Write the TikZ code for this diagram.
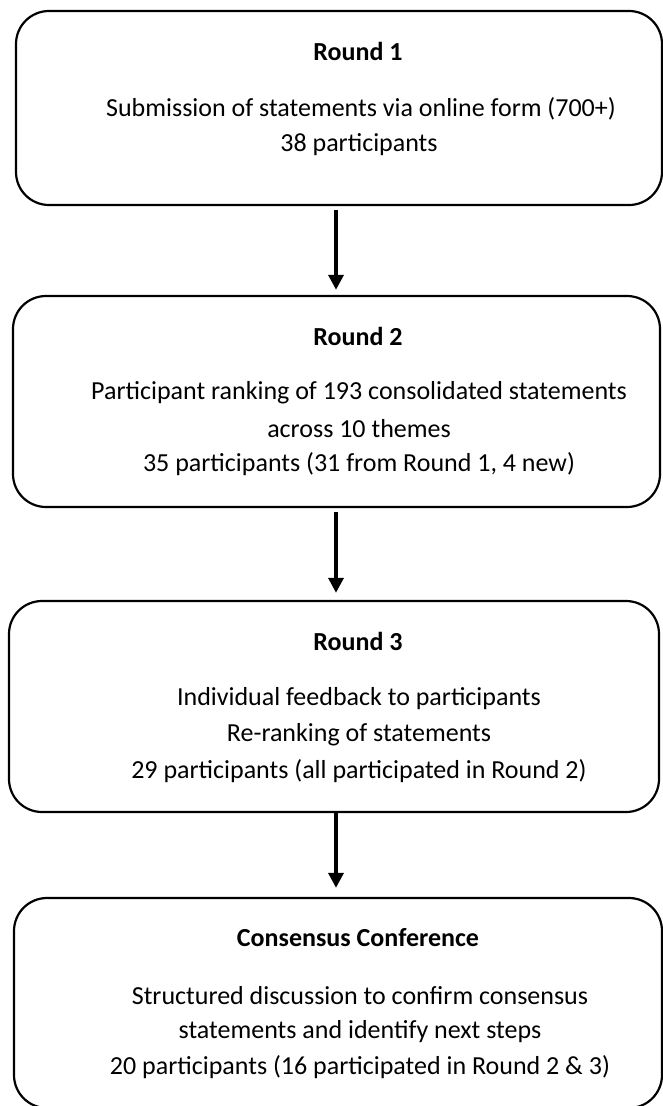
\documentclass[tikz,border=0pt]{standalone}
\usepackage{fontspec}
\setmainfont{Carlito}
\usetikzlibrary{arrows.meta}
\begin{document}
\begin{tikzpicture}[x=1pt,y=-1pt,
  stagebox/.style={draw=black, line width=2.2pt, rounded corners=33pt, fill=white},
  ttl/.style={font=\fontsize{26}{31}\selectfont\bfseries, inner sep=0pt, anchor=center},
  body/.style={font=\fontsize{26}{31}\selectfont, inner sep=0pt, align=center, anchor=center},
  arr/.style={line width=3.5pt, -{Triangle[width=15pt,length=15pt]}}]
\useasboundingbox (0,0) rectangle (663,1106);
% boxes
\draw[stagebox] (16,11) rectangle (662,205);
\node[inner sep=0pt, minimum width=646pt, minimum height=194pt] (r1) at (339,108) {};
\draw[stagebox] (13,296) rectangle (660,507);
\node[inner sep=0pt, minimum width=647pt, minimum height=211pt] (r2) at (336.5,401.5) {};
\draw[stagebox] (9,601) rectangle (659,812);
\node[inner sep=0pt, minimum width=650pt, minimum height=211pt] (r3) at (334,706.5) {};
\draw[stagebox] (14,898) rectangle (662,1108);
\node[inner sep=0pt, minimum width=648pt, minimum height=210pt] (r4) at (338,1003) {};
% texts
\node[ttl] (t1) at (358,51) {Round 1};
\node[body] (b1a) at (361,109) {Submission of statements via online form (700+)};
\node[body] (b1b) at (359,144.5) {38 participants};
\node[ttl] (t2) at (358,336) {Round 2};
\node[body] (b2a) at (359,393) {Participant ranking of 193 consolidated statements};
\node[body] (b2b) at (359,428.5) {across 10 themes};
\node[body] (b2c) at (359,464) {35 participants (31 from Round 1, 4 new)};
\node[ttl] (t3) at (358,641) {Round 3};
\node[body] (b3a) at (359,699) {Individual feedback to participants};
\node[body] (b3b) at (359,734.5) {Re-ranking of statements};
\node[body] (b3c) at (359,771) {29 participants (all participated in Round 2)};
\node[ttl] (t4) at (358,938) {Consensus Conference};
\node[body] (b4a) at (360,996) {Structured discussion to confirm consensus};
\node[body] (b4b) at (360,1031.5) {statements and identify next steps};
\node[body] (b4c) at (360,1067) {20 participants (16 participated in Round 2 \& 3)};
% arrows
\coordinate (ax) at (336,0);
\draw[arr, shorten <=5pt, shorten >=6pt] (r1.south -| ax) -- (r2.north -| ax);
\draw[arr, shorten <=5pt, shorten >=8pt] (r2.south -| ax) -- (r3.north -| ax);
\draw[arr, shorten >=10pt] (r3.south -| ax) -- (r4.north -| ax);
\end{tikzpicture}
\end{document}
